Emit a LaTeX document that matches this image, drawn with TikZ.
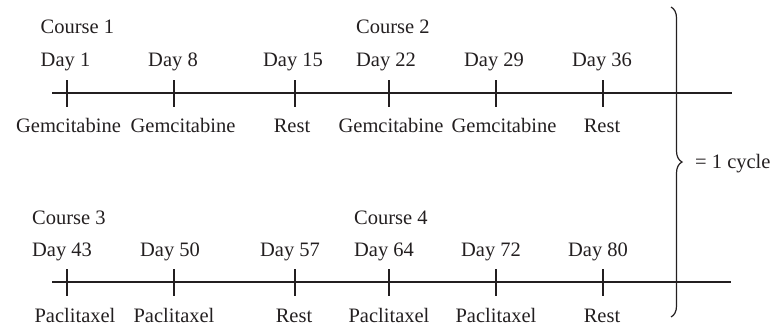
\documentclass[tikz,border=0pt]{standalone}
\usepackage{fontspec}
\setmainfont{Liberation Serif}
\usepackage{tikz}
\usetikzlibrary{
  positioning,
  decorations.pathreplacing
}
\definecolor{ink}{RGB}{35,31,32}

\begin{document}
\begin{tikzpicture}[x=1pt,y=-1pt,
  every node/.style={inner sep=0pt,text=ink,font=\fontsize{20.5}{24}\selectfont},
  lab/.style={anchor=base},
  lead/.style={anchor=base west},
  axis/.style={draw=ink,line width=1.2pt}]
  \useasboundingbox (0,0) rectangle (773,327);

  % first half of the cycle
  \node[lab] (1) at (65.5,66) {Day 1};
  \node[lab] (2) at (173,66) {Day 8};
  \node[lab] (3) at (293,66) {Day 15};
  \node[lab] (4) at (386,66) {Day 22};
  \node[lab] (5) at (494,66) {Day 29};
  \node[lab] (6) at (602,66) {Day 36};
  \node[lead] (7) at ([yshift=33pt]1.base west) {Course 1};
  \node[lead] (8) at ([yshift=33pt]4.base west) {Course 2};
  \coordinate (9) at (52,93);
  \coordinate (10) at (732,93);
  \draw[axis] (9) -- (10);
  \draw[axis] (67,80) -- (67,107);
  \draw[axis] (174,80) -- (174,107);
  \draw[axis] (295,80) -- (295,107);
  \draw[axis] (389,80) -- (389,107);
  \draw[axis] (496,80) -- (496,107);
  \draw[axis] (603,80) -- (603,107);
  \node[lab] (11) at (68.5,132) {Gemcitabine};
  \node[lab] (12) at (183,132) {Gemcitabine};
  \node[lab] (13) at (292,132) {Rest};
  \node[lab] (14) at (391,132) {Gemcitabine};
  \node[lab] (15) at (504,132) {Gemcitabine};
  \node[lab] (16) at (602,132) {Rest};

  % second half of the cycle
  \node[lab] (21) at (62,256) {Day 43};
  \node[lab] (22) at (170,256) {Day 50};
  \node[lab] (23) at (290,256) {Day 57};
  \node[lab] (24) at (384,256) {Day 64};
  \node[lab] (25) at (491,256) {Day 72};
  \node[lab] (26) at (598,256) {Day 80};
  \node[lead] (27) at ([yshift=32pt]21.base west) {Course 3};
  \node[lead] (28) at ([yshift=32pt]24.base west) {Course 4};
  \coordinate (29) at (52,282);
  \coordinate (30) at (731,282);
  \draw[axis] (29) -- (30);
  \draw[axis] (67,269) -- (67,296);
  \draw[axis] (174,269) -- (174,296);
  \draw[axis] (295,269) -- (295,296);
  \draw[axis] (389,269) -- (389,296);
  \draw[axis] (496,269) -- (496,296);
  \draw[axis] (603,269) -- (603,296);
  \node[lab] (31) at (75,322) {Paclitaxel};
  \node[lab] (32) at (174,322) {Paclitaxel};
  \node[lab] (33) at (294,322) {Rest};
  \node[lab] (34) at (389,322) {Paclitaxel};
  \node[lab] (35) at (496,322) {Paclitaxel};
  \node[lab] (36) at (602,322) {Rest};

  % brace over both halves
  \coordinate (40) at (671,7);
  \coordinate (41) at (671,317);
  \draw[axis,decorate,decoration={brace,amplitude=11pt}] (40) -- (41);
  \node[lead] (42) at (695,168) {= 1 cycle};

\end{tikzpicture}
\end{document}
